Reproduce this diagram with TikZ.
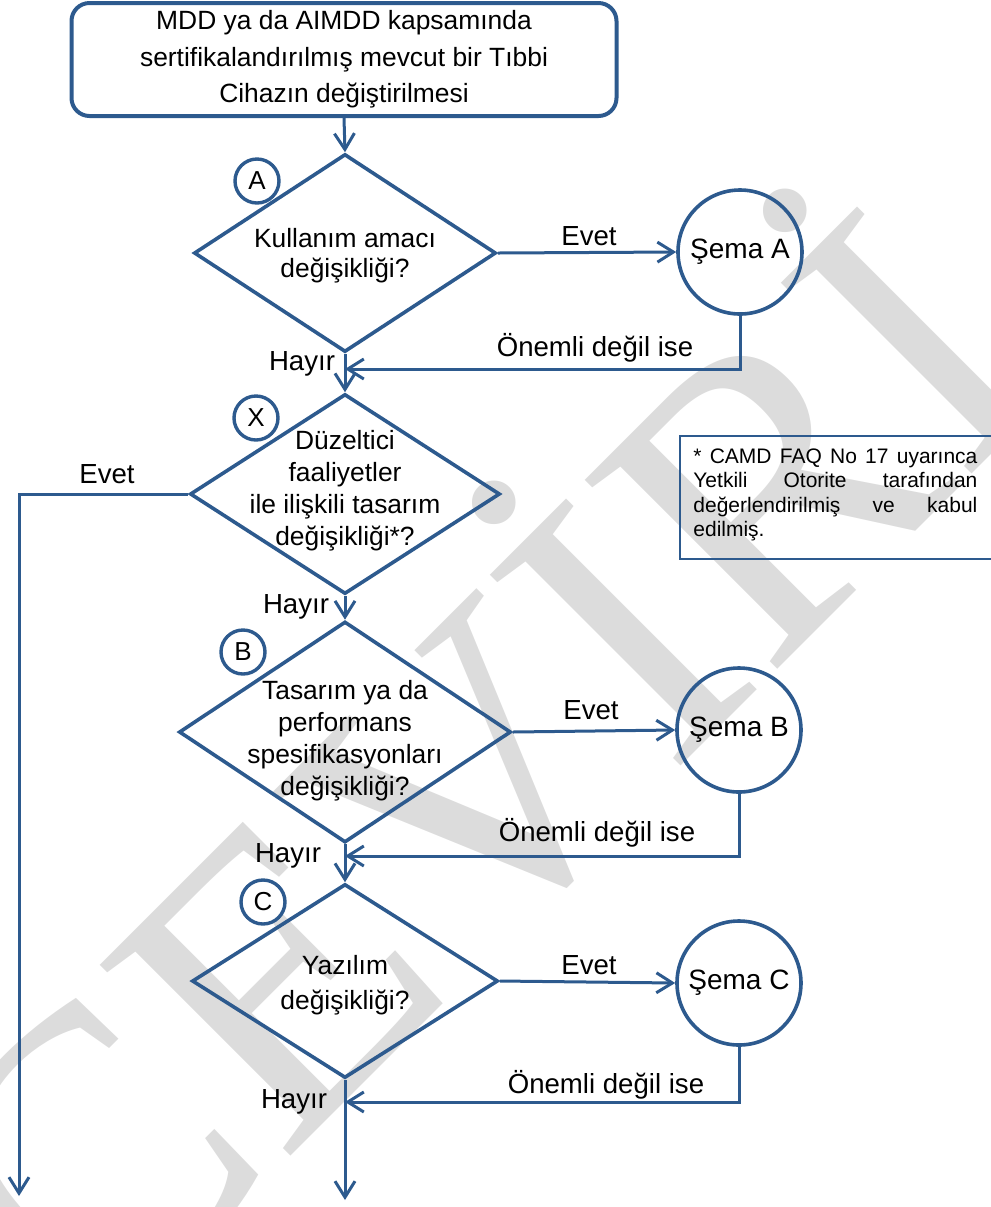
\documentclass[tikz,border=0pt]{standalone}
\usepackage{fontspec}
\setmainfont{Liberation Sans}
\newfontfamily\wmfont{Liberation Serif}
\usetikzlibrary{shapes.geometric,arrows.meta,calc}
\definecolor{flow}{HTML}{2D5A8E}
\definecolor{wmgray}{HTML}{DCDCDC}
\begin{document}
\begin{tikzpicture}[x=0.5pt,y=-0.5pt,
  arr/.style={draw=flow,line width=1.5pt,-{Straight Barb[length=8pt,width=10pt,line width=1.5pt]}},
  dia/.style={diamond,draw=flow,line width=1.8pt,inner sep=0pt},
  dtext/.style={align=center,inner sep=0pt,font=\fontsize{13.2}{16}\selectfont},
  tag/.style={circle,draw=flow,line width=1.7pt,fill=white,inner sep=0pt,minimum size=22pt,font=\fontsize{13}{15}\selectfont},
  sema/.style={circle,draw=flow,line width=1.8pt,inner sep=0pt,minimum size=62pt,font=\fontsize{14}{16}\selectfont},
  lbl/.style={inner sep=0pt,font=\fontsize{13.8}{16}\selectfont},
]
\useasboundingbox (0,0) rectangle (991,1207);
% watermark
\node[rotate=45,text=wmgray,inner sep=0pt,font=\wmfont\fontsize{206}{206}\selectfont] (wm) at (484,784) {ÇEVİRİ};

% start box
\node[draw=flow,line width=2pt,rounded corners=9pt,minimum width=272.5pt,minimum height=56.5pt,align=center,inner sep=0pt,font=\fontsize{13.2}{18.25}\selectfont] (start) at (344,59.5)
  {MDD ya da AIMDD kapsamında\\sertifikalandırılmış mevcut bir Tıbbi\\Cihazın değiştirilmesi};

% diamonds
\node[dia,minimum width=151pt,minimum height=99pt] (dA) at (345,253) {};
\node[dia,minimum width=155pt,minimum height=100pt] (dX) at (345,494) {};
\node[dia,minimum width=166pt,minimum height=110.5pt] (dB) at (345,732) {};
\node[dia,minimum width=153pt,minimum height=97pt] (dC) at (345,981) {};

\node[dtext,font=\fontsize{13.2}{15}\selectfont] (tA) at (345,256) {Kullanım amacı\\değişikliği?};
\node[dtext] (tX) at (345,491) {Düzeltici\\faaliyetler\\ile ilişkili tasarım\\değişikliği*?};
\node[dtext] (tB) at (345,741) {Tasarım ya da\\performans\\spesifikasyonları\\değişikliği?};
\node[dtext,font=\fontsize{13.2}{17.5}\selectfont] (tC) at (345,985) {Yazılım\\değişikliği?};

% tags
\node[tag] (cA) at (257,181) {A};
\node[tag] (cX) at (256,418) {X};
\node[tag] (cB) at (243,652) {B};
\node[tag] (cC) at (263,902) {C};

% schema circles
\node[sema] (sA) at (740,252) {Şema A};
\node[sema] (sB) at (739,730) {Şema B};
\node[sema] (sC) at (739,983) {Şema C};

% note
\node[draw=flow,line width=1.2pt,anchor=north west,minimum width=170pt,minimum height=61.5pt,inner sep=0pt] (nbox) at (679,435) {};
\node[anchor=west,align=left,inner sep=0pt,font=\fontsize{10.5}{12.25}\selectfont] (ntext) at (693,495)
  {\makebox[142pt][s]{* CAMD FAQ No 17 uyarınca}\\
   \makebox[142pt][s]{Yetkili Otorite tarafından}\\
   \makebox[142pt][s]{değerlendirilmiş ve kabul}\\
   edilmiş.};

% coordinates
\coordinate (jA) at (345,369);
\coordinate (jB) at (345,856);
\coordinate (jC) at (345,1102);
\coordinate (endM) at (345,1200);
\coordinate (endL) at (19,1196);

% connectors
\draw[arr] (start.south) -- (dA.north);
\draw[arr] (dA.south) -- (dX.north);
\draw[arr] (dX.south) -- (dB.north);
\draw[arr] (dB.south) -- (dC.north);
\draw[arr] (dC.south) -- (endM);
\draw[arr] (dX.west) -| (endL);
\draw[arr] (dA.east) -- (sA.west);
\draw[arr] (dB.east) -- (sB.west);
\draw[arr] (dC.east) -- (sC.west);
\draw[arr] (sA.south) |- (jA);
\draw[arr] (sB.south) |- (jB);
\draw[arr] (sC.south) |- (jC);

% labels
\node[lbl] (eA) at (589,236) {Evet};
\node[lbl] (eB) at (591,710) {Evet};
\node[lbl] (eC) at (589,965) {Evet};
\node[lbl] (eL) at (107,474) {Evet};
\node[lbl] (oA) at (595,348) {Önemli değil ise};
\node[lbl] (oB) at (597,833) {Önemli değil ise};
\node[lbl] (oC) at (606,1085) {Önemli değil ise};
\node[lbl] (hA) at (302,364) {Hayır};
\node[lbl] (hX) at (296,607) {Hayır};
\node[lbl] (hB) at (288,856) {Hayır};
\node[lbl] (hC) at (294,1102) {Hayır};
\end{tikzpicture}
\end{document}
